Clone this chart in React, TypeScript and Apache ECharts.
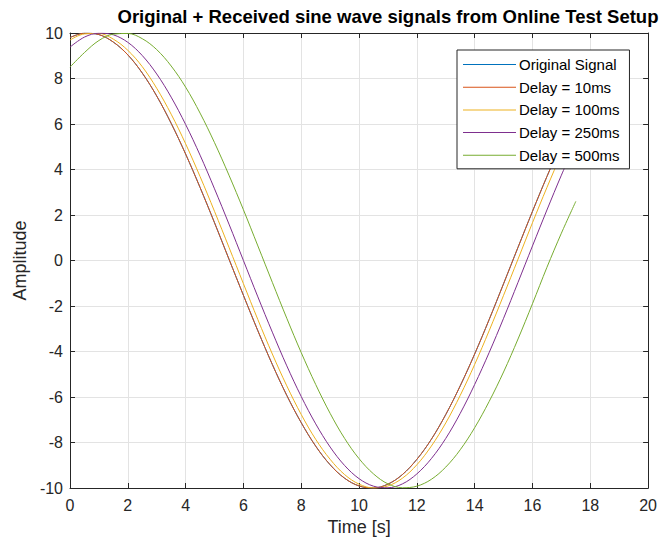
import React, { useEffect, useRef } from "react";
import * as echarts from "echarts";

const TIME = [0, 0.5, 1, 1.5, 2, 2.5, 3, 3.5, 4, 4.5, 5, 5.5, 6, 6.5, 7, 7.5, 8, 8.5, 9, 9.5, 10, 10.5, 11, 11.5, 12, 12.5, 13, 13.5, 14, 14.5, 15, 15.5, 16, 16.5, 17, 17.5];

const ORIGINAL = [9.8, 9.99, 9.93, 9.6, 9.04, 8.24, 7.23, 6.03, 4.68, 3.21, 1.66, 0.06, -1.53, -3.09, -4.57, -5.93, -7.13, -8.16, -8.98, -9.57, -9.91, -10.0, -9.83, -9.41, -8.74, -7.86, -6.77, -5.51, -4.11, -2.6, -1.02, 0.58, 2.16, 3.69, 5.13, 6.43];
const DELAY_10 = [9.8, 9.99, 9.93, 9.6, 9.04, 8.24, 7.23, 6.03, 4.68, 3.21, 1.66, 0.06, -1.53, -3.09, -4.57, -5.93, -7.13, -8.16, -8.98, -9.57, -9.91, -10.0, -9.83, -9.41, -8.74, -7.86, -6.77, -5.51, -4.11, -2.6, -1.02, 0.58, 2.16, 3.69, 5.13, 6.43];
const DELAY_100 = [9.69, 9.96, 9.98, 9.73, 9.24, 8.52, 7.57, 6.43, 5.13, 3.69, 2.16, 0.58, -1.02, -2.6, -4.11, -5.51, -6.77, -7.86, -8.74, -9.41, -9.83, -10.0, -9.91, -9.57, -8.98, -8.16, -7.14, -5.93, -4.57, -3.09, -1.53, 0.06, 1.66, 3.21, 4.68, 6.03];
const DELAY_250 = [9.38, 9.82, 9.99, 9.92, 9.59, 9.01, 8.2, 7.18, 5.98, 4.63, 3.15, 1.6, 0.0, -1.6, -3.15, -4.63, -5.98, -7.18, -8.2, -9.01, -9.59, -9.92, -9.99, -9.82, -9.38, -8.71, -7.82, -6.72, -5.45, -4.05, -2.54, -0.96, 0.64, 2.22, 3.75, 5.18];
const DELAY_500 = [8.5, 9.14, 9.67, 9.95, 9.98, 9.75, 9.27, 8.55, 7.62, 6.48, 5.18, 3.75, 2.23, 0.64, -0.96, -2.54, -4.05, -5.45, -6.72, -7.82, -8.71, -9.38, -9.82, -9.99, -9.92, -9.62, -9.08, -8.32, -7.35, -6.2, -4.9, -3.45, -1.9, -0.3, 1.2, 2.6];

const SERIES_NAMES = ["Original Signal", "Delay = 10ms", "Delay = 100ms", "Delay = 250ms", "Delay = 500ms"];
const SERIES_VALUES = [ORIGINAL, DELAY_10, DELAY_100, DELAY_250, DELAY_500];
const COLORS = ["#0072BD", "#D95319", "#EDB120", "#7E2F8E", "#77AC30"];
const X_TICKS = [0, 2, 4, 6, 8, 10, 12, 14, 16, 18, 20];

const FONT = "Liberation Sans, Arial, sans-serif";
const AXIS_COLOR = "#262626";

export default function App() {
  const ref = useRef<HTMLDivElement>(null);
  useEffect(() => {
    if (!ref.current) return;
    const chart = echarts.init(ref.current, undefined, { renderer: "svg" });
    const tickCommon = { show: true, inside: true, length: 5, lineStyle: { color: AXIS_COLOR } };
    const option: any = {
      animation: false,
      backgroundColor: "#ffffff",
      title: {
        text: "Original + Received sine wave signals from Online Test Setup",
        left: 383,
        textAlign: "center",
        top: 2,
        textStyle: { fontFamily: FONT, fontSize: 18.5, fontWeight: "bold", color: "#000" },
      },
      grid: { left: 70, right: 9, top: 33, bottom: 58, containLabel: false },
      legend: {
        orient: "vertical",
        left: 457,
        top: 50,
        padding: [7, 10, 6, 6],
        itemWidth: 53,
        itemHeight: 14,
        itemGap: 7.7,
        icon: "path://M0,0L53,0L53,1L0,1Z",
        symbolKeepAspect: true,
        backgroundColor: "#ffffff",
        borderColor: AXIS_COLOR,
        borderWidth: 1,
        borderRadius: 0,
        textStyle: { fontFamily: FONT, fontSize: 15, color: "#000", padding: [0, 0, 0, -2] },
        data: SERIES_NAMES,
      },
      xAxis: [
        {
          type: "value",
          min: 0,
          max: 20,
          interval: 2,
          name: "Time [s]",
          nameLocation: "middle",
          nameGap: 30,
          nameTextStyle: { fontFamily: FONT, fontSize: 18, color: AXIS_COLOR },
          axisLine: { show: true, onZero: false, lineStyle: { color: AXIS_COLOR } },
          axisTick: tickCommon,
          axisLabel: {
            fontFamily: FONT,
            fontSize: 16,
            color: AXIS_COLOR,
            margin: 9,
            formatter: (v: number) => (X_TICKS.includes(v) ? String(v) : ""),
          },
          splitLine: { show: true, lineStyle: { color: "#e3e3e3" } },
        },
        {
          type: "value",
          position: "top",
          min: 0,
          max: 20,
          interval: 2,
          axisLine: { show: true, onZero: false, lineStyle: { color: AXIS_COLOR } },
          axisTick: tickCommon,
          axisLabel: { show: false },
          splitLine: { show: false },
        },
      ],
      yAxis: [
        {
          type: "value",
          min: -10,
          max: 10,
          interval: 2,
          name: "Amplitude",
          nameLocation: "middle",
          nameGap: 34,
          nameTextStyle: { fontFamily: FONT, fontSize: 18, color: AXIS_COLOR },
          axisLine: { show: true, onZero: false, lineStyle: { color: AXIS_COLOR } },
          axisTick: tickCommon,
          axisLabel: { fontFamily: FONT, fontSize: 16, color: AXIS_COLOR, margin: 7 },
          splitLine: { show: true, lineStyle: { color: "#e3e3e3" } },
        },
        {
          type: "value",
          position: "right",
          min: -10,
          max: 10,
          interval: 2,
          axisLine: { show: true, onZero: false, lineStyle: { color: AXIS_COLOR } },
          axisTick: tickCommon,
          axisLabel: { show: false },
          splitLine: { show: false },
        },
      ],
      series: SERIES_NAMES.map((name, i) => ({
        name,
        type: "line",
        xAxisIndex: 0,
        yAxisIndex: 0,
        symbol: "none",
        smooth: 0.35,
        color: COLORS[i],
        lineStyle: { width: 1, color: COLORS[i] },
        data: TIME.map((t, j) => [t, SERIES_VALUES[i][j]]),
      })),
    };
    chart.setOption(option);
    return () => chart.dispose();
  }, []);
  return <div ref={ref} style={{ width: 660, height: 546, position: "absolute", left: 0, top: 0 }} />;
}
